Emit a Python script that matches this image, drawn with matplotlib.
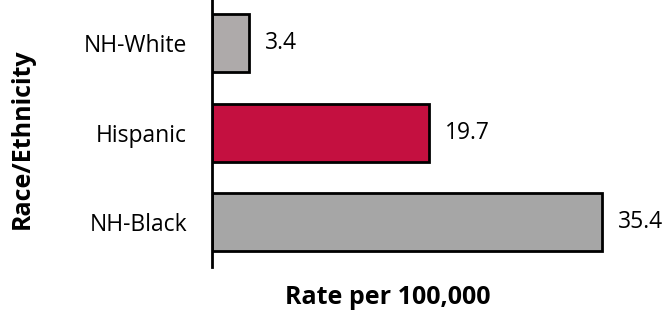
import matplotlib.pyplot as plt

# data, bottom to top
groups = ["NH-Black", "Hispanic", "NH-White"]
rates = [35.4, 19.7, 3.4]
colors = ["#A6A6A6", "#C41040", "#AEAAAA"]

plt.rcParams['font.family'] = ['Open Sans', 'DejaVu Sans']

W, H = 666, 314
fig = plt.figure(figsize=(W / 100, H / 100), dpi=100)
# axes in pixel coords: left 212, bottom 47, height 268.5, width 441
ax = fig.add_axes([212 / W, 47 / H, 441 / W, 268.5 / H])

ypos = range(len(groups))
ax.barh(ypos, rates, height=0.65, color=colors, edgecolor="black", linewidth=2)
for y, v in zip(ypos, rates):
    ax.annotate(f"{v:.1f}", (v, y), xytext=(11, 0), textcoords="offset points",
                va="center", ha="left", fontsize=16.5)

ax.set_xlim(0, 40)
ax.set_ylim(-0.5, 2.5)
ax.set_yticks(list(ypos))
ax.set_yticklabels(groups, fontsize=16.5)
ax.tick_params(axis="y", length=0, pad=18)
ax.set_xticks([])
for s in ["top", "right", "bottom"]:
    ax.spines[s].set_visible(False)
ax.spines["left"].set_linewidth(2)

fig.text(388 / W, 1 - 297 / H, "Rate per 100,000", ha="center", va="center",
         fontsize=18, fontweight="bold")
fig.text(22 / W, 1 - 139 / H, "Race/Ethnicity", ha="center", va="center",
         rotation=90, fontsize=18, fontweight="bold")

fig.savefig("out.png", dpi=100)
